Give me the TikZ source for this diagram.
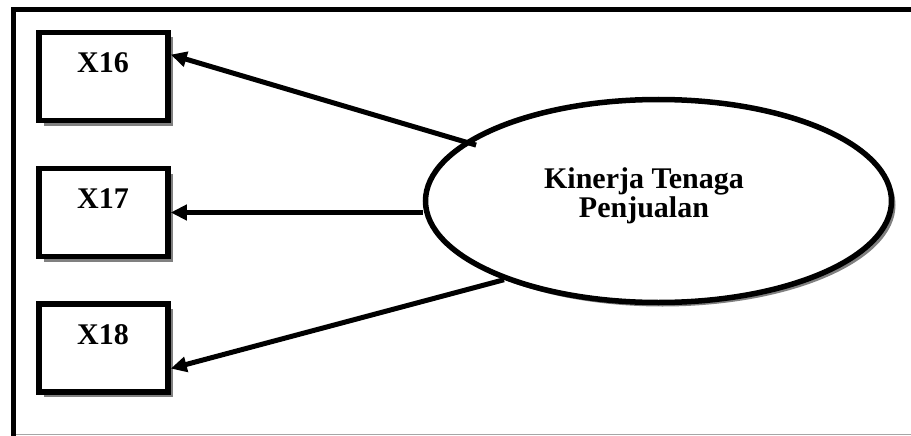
\documentclass[tikz,border=0pt]{standalone}
\usepackage{fontspec}
\setmainfont{Liberation Serif}
\usetikzlibrary{shapes.geometric,shadows,arrows.meta}

\tikzset{
  boxnode/.style={draw, line width=5.5pt, fill=white, minimum width=129pt, minimum height=88pt,
    inner sep=0pt, drop shadow={shadow xshift=5pt, shadow yshift=-5pt, fill=black!50, opacity=1}},
  latentnode/.style={ellipse, draw, line width=5.5pt, fill=white, minimum width=466pt, minimum height=203pt,
    inner sep=0pt, drop shadow={shadow xshift=4pt, shadow yshift=-4pt, fill=black!50, opacity=1}},
  labeltext/.style={font=\fontsize{30}{30}\selectfont\bfseries, inner sep=0pt, anchor=base},
  arr/.style={line width=5pt, -{Triangle[length=16pt,width=15pt]}},
  framecol/.style={line width=5pt, black}
}

\begin{document}
\begin{tikzpicture}[x=1pt,y=-1pt]
  \useasboundingbox (0,0) rectangle (911,436);
  \fill[white] (0,0) rectangle (911,436);

  % outer frame (open on the right)
  \draw[black!35, line width=0.8pt] (16,434.5) -- (911,434.5);
  \draw[framecol] (911,9.5) -- (13.5,9.5) -- (13.5,436);

  % indicator boxes
  \node[boxnode] (x16) at (103.5,76.5) {};
  \node[boxnode] (x17) at (103.5,212.5) {};
  \node[boxnode] (x18) at (103.5,348) {};
  \node[labeltext] (t16) at (103,73) {X16};
  \node[labeltext] (t17) at (103,208) {X17};
  \node[labeltext] (t18) at (103,344) {X18};

  % latent construct
  \node[latentnode] (ell) at (658.5,201) {};
  \node[labeltext] (k1) at (644,188) {Kinerja Tenaga};
  \node[labeltext] (k2) at (644,217) {Penjualan};

  % loadings
  \draw[arr, shorten <=-12pt] (ell.163) -- (x16.18);
  \draw[arr] (ell.west |- x17.east) -- (x17.east);
  \draw[arr] (ell.207) -- (x18.-17);
\end{tikzpicture}
\end{document}
